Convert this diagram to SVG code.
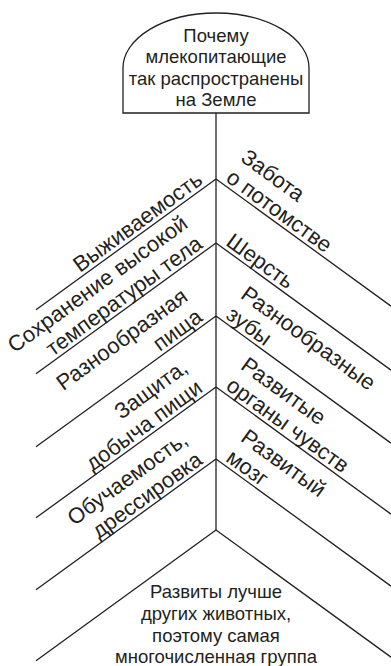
<svg xmlns="http://www.w3.org/2000/svg" width="391" height="666" viewBox="0 0 391 666">
<style>
.ln{fill:none;stroke:#231f20;stroke-width:1.3}
text{font-family:"Liberation Sans",Arial,sans-serif;font-size:18.5px;fill:#231f20}
.r text{font-size:22px}
.c{text-anchor:middle}
.e{text-anchor:end}
.s{text-anchor:start}
</style>
<rect width="391" height="666" fill="#fff"/>
<g id="question">
<path class="ln" d="M123,113 V68 A93,55 0 0 1 309,68 V113 Z"/>
<text class="c" x="216" y="41.5">Почему</text>
<text class="c" x="216" y="63">млекопитающие</text>
<text class="c" x="216" y="84.5">так распространены</text>
<text class="c" x="216" y="106">на Земле</text>
</g>
<g id="connectors">
<path class="ln" d="M216,113 V530"/>
<path class="ln" d="M216,179 L36,309.8 M216,243 L36,373.8 M216,316 L36,446.8 M216,387 L36,517.8 M216,459 L36,589.8 M216,530 L36,660.8"/>
<path class="ln" d="M216,179 L391,306.1 M216,243 L391,370.1 M216,316 L391,443.1 M216,387 L391,514.1 M216,459 L391,586.1 M216,530 L391,657.1"/>
</g>
<g id="l1" class="r" transform="translate(216,179) rotate(-36)">
<text class="e" x="-12" y="-4">Выживаемость</text>
</g>
<g id="l2" class="r" transform="translate(216,243) rotate(-36)">
<text class="e" x="-12" y="-29">Сохранение высокой</text>
<text class="e" x="-12" y="-4">температуры тела</text>
</g>
<g id="l3" class="r" transform="translate(216,316) rotate(-36)">
<text class="e" x="-12" y="-29">Разнообразная</text>
<text class="e" x="-12" y="-4">пища</text>
</g>
<g id="l4" class="r" transform="translate(216,387) rotate(-36)">
<text class="e" x="-12" y="-29">Защита,</text>
<text class="e" x="-12" y="-4">добыча пищи</text>
</g>
<g id="l5" class="r" transform="translate(216,459) rotate(-36)">
<text class="e" x="-12" y="-29">Обучаемость,</text>
<text class="e" x="-12" y="-4">дрессировка</text>
</g>
<g id="r1" class="r" transform="translate(216,179) rotate(36)">
<text class="s" x="8" y="-29">Забота</text>
<text class="s" x="8" y="-4">о потомстве</text>
</g>
<g id="r2" class="r" transform="translate(216,243) rotate(36)">
<text class="s" x="8" y="-4">Шерсть</text>
</g>
<g id="r3" class="r" transform="translate(216,316) rotate(36)">
<text class="s" x="8" y="-29">Разнообразные</text>
<text class="s" x="8" y="-4">зубы</text>
</g>
<g id="r4" class="r" transform="translate(216,387) rotate(36)">
<text class="s" x="8" y="-29">Развитые</text>
<text class="s" x="8" y="-4">органы чувств</text>
</g>
<g id="r5" class="r" transform="translate(216,459) rotate(36)">
<text class="s" x="8" y="-29">Развитый</text>
<text class="s" x="8" y="-4">мозг</text>
</g>
<g id="answer">
<text class="c" x="216" y="598">Развиты лучше</text>
<text class="c" x="216" y="620">других животных,</text>
<text class="c" x="216" y="641.5">поэтому самая</text>
<text class="c" x="216" y="663">многочисленная группа</text>
</g>
</svg>
